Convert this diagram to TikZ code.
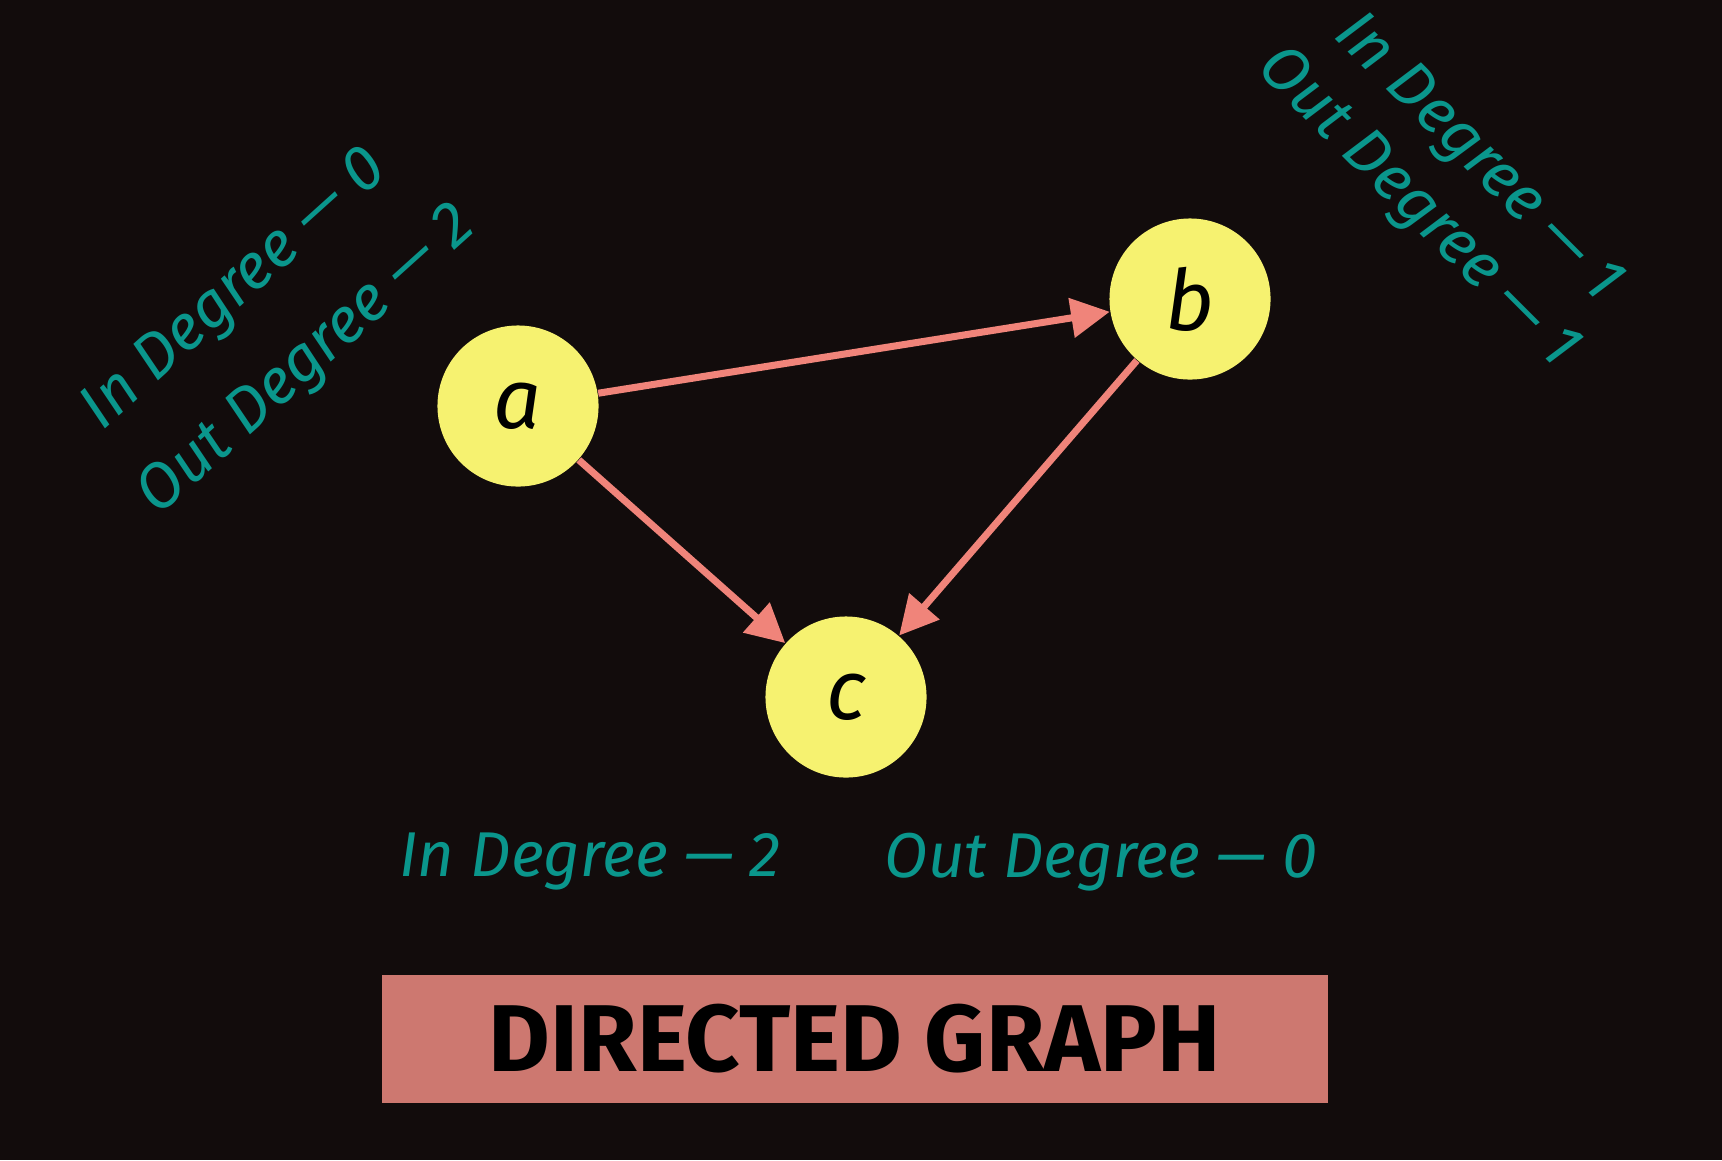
\documentclass[tikz,border=0pt]{standalone}
\usepackage{fontspec}
\setmainfont{Fira Sans}
\usepackage{tikz}
\usetikzlibrary{arrows.meta,positioning,calc}
\definecolor{bgdark}{RGB}{18,12,12}
\definecolor{degteal}{RGB}{10,150,140}
\definecolor{vertexyellow}{RGB}{246,242,112}
\definecolor{edgepink}{RGB}{240,132,122}
\definecolor{bannerred}{RGB}{205,120,112}

\begin{document}
\begin{tikzpicture}[
  x=0.01cm, y=-0.01cm,
  vertex/.style = {circle, fill=vertexyellow, minimum size=1.61cm, inner sep=0pt,
                   font=\fontsize{24}{28}\selectfont\itshape},
  deg/.style = {text=degteal, inner sep=1pt, font=\fontsize{18}{21}\selectfont\itshape},
  banner/.style = {rectangle, fill=bannerred, minimum width=9.46cm,
                   minimum height=1.28cm, inner sep=0pt,
                   font=\bfseries\fontsize{27}{31}\selectfont},
  edge/.style = {-{Triangle[length=11pt, width=11pt]}, edgepink, line width=2pt}
]

% Background and frame
\useasboundingbox (0,0) rectangle (1722,1160);
\fill[bgdark] (0,0) rectangle (1722,1160);

% Vertices
\node[vertex] (a) at (518,406) {a};
\node[vertex] (b) at (1190,299) {b};
\node[vertex] (c) at (846,697) {c};

% Directed edges
\draw[edge] (a) -- (b);
\draw[edge] (a) -- (c);
\draw[edge] (b) -- (c);

% Degrees of a
\node[deg, rotate=42] (ain) at (236,291) {In Degree — 0};
\node[deg, rotate=42] (aout) at (308,362) {Out Degree — 2};

% Degrees of b
\node[deg, rotate=-45] (bin) at (1477,159) {In Degree — 1};
\node[deg, rotate=-45] (bout) at (1417,209) {Out Degree — 1};

% Degrees of c
\node[deg] (cin) at (590,862) {In Degree — 2};
\node[deg] (cout) at (1101,862) {Out Degree — 0};

% Title
\node[banner] (title) at (855,1039) {DIRECTED GRAPH};

\end{tikzpicture}
\end{document}
